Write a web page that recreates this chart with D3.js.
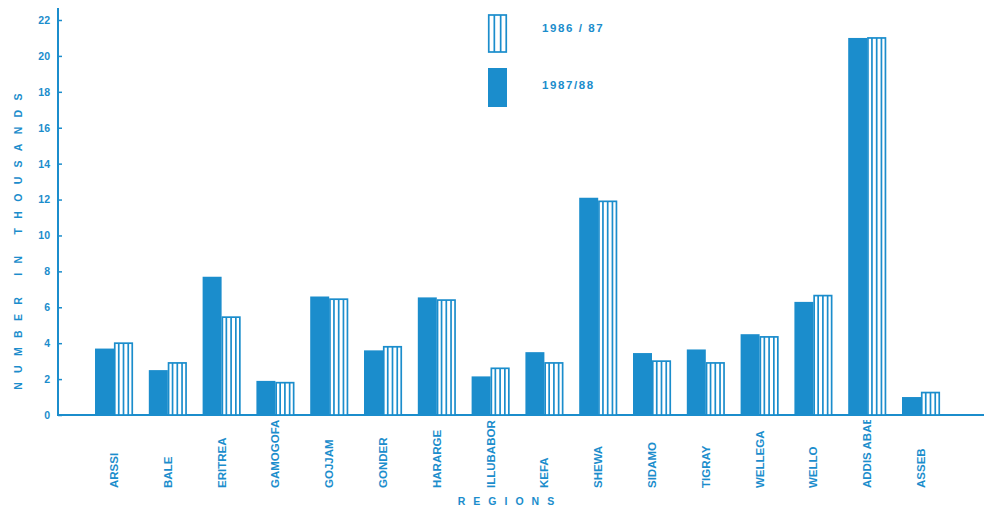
<!DOCTYPE html>
<html><head><meta charset="utf-8">
<script src="https://cdn.jsdelivr.net/npm/d3@7"></script>
<style>body{margin:0;background:#fff}svg{display:block}</style>
</head><body>
<script>
const regions = ["ARSSI","BALE","ERITREA","GAMOGOFA","GOJJAM","GONDER","HARARGE","ILLUBABOR","KEFA","SHEWA","SIDAMO","TIGRAY","WELLEGA","WELLO","ADDIS ABABA","ASSEB"];
const v8788 = [3.7,2.5,7.7,1.9,6.6,3.6,6.55,2.15,3.5,12.1,3.45,3.65,4.5,6.3,21.0,1.0];
const v8687 = [4.0,2.9,5.45,1.8,6.45,3.8,6.4,2.6,2.9,11.9,3.0,2.9,4.35,6.65,21.0,1.25];
const seriesKeys = ["1987/88","1986 / 87"];
const yTicks = [0,2,4,6,8,10,12,14,16,18,20,22];

const W=984,H=515, C="#1b8dcc";
const svg=d3.select("body").append("svg").attr("width",W).attr("height",H);
const font="'Liberation Sans', Arial, sans-serif";

const x=d3.scaleBand().domain(regions).range([58,977]).paddingInner(0.294).paddingOuter(0.688);
const xs=d3.scaleBand().domain(seriesKeys).range([0,x.bandwidth()]);
const y=d3.scaleLinear().domain([0,22]).range([415,20]);

// y axis
const ya=svg.append("g").attr("transform","translate(58,0)")
  .call(d3.axisRight(y).tickValues(yTicks).tickSize(4).tickFormat(d3.format("d")));
ya.select(".domain").remove();
ya.selectAll(".tick line").attr("stroke",C).attr("stroke-width",1.5);
ya.selectAll(".tick text").attr("x",-8).attr("text-anchor","end").attr("fill",C)
  .attr("font-family",font).attr("font-weight","bold").attr("font-size",10.5);
svg.append("line").attr("x1",58).attr("x2",58).attr("y1",8).attr("y2",y(0)+1)
  .attr("stroke",C).attr("stroke-width",2);
// baseline
svg.append("line").attr("x1",57).attr("x2",W).attr("y1",y(0)).attr("y2",y(0))
  .attr("stroke",C).attr("stroke-width",2.2);

// bars
const data=regions.map((r,i)=>({r,vals:[{k:seriesKeys[0],v:v8788[i]},{k:seriesKeys[1],v:v8687[i]}]}));
const g=svg.append("g").selectAll("g").data(data).join("g").attr("transform",d=>`translate(${x(d.r)},0)`);
g.each(function(d){
  const gg=d3.select(this);
  const f=d.vals[0], s=d.vals[1];
  gg.append("rect").attr("x",xs(f.k)).attr("y",y(f.v)).attr("width",xs.bandwidth()).attr("height",y(0)-y(f.v)).attr("fill",C);
  const sx=xs(s.k), bw=xs.bandwidth();
  gg.append("rect").attr("x",sx+0.75).attr("y",y(s.v)).attr("width",bw-1.5).attr("height",y(0)-y(s.v))
    .attr("fill","#fff").attr("stroke",C).attr("stroke-width",1.7);
  [0.25,0.5,0.75].forEach(t=>{
    gg.append("line").attr("x1",sx+bw*t).attr("x2",sx+bw*t).attr("y1",y(s.v)).attr("y2",y(0))
      .attr("stroke",C).attr("stroke-width",1.7);
  });
});

// x labels (clipped at top like the original scan)
svg.append("clipPath").attr("id","lblclip").append("rect").attr("x",0).attr("y",420).attr("width",W).attr("height",H-420);
svg.append("g").attr("clip-path","url(#lblclip)").selectAll("text").data(regions).join("text")
  .attr("transform",d=>`translate(${x(d)+x.bandwidth()/2+4},488) rotate(-90)`)
  .attr("text-anchor","start").attr("fill",C).attr("font-family",font).attr("font-weight","bold")
  .attr("font-size",11.5).text(d=>d);

// axis titles
svg.append("text").attr("transform","translate(22,237) rotate(-90)").attr("text-anchor","middle")
  .attr("fill",C).attr("font-family",font).attr("font-weight","bold").attr("font-size",10.5)
  .attr("letter-spacing",9.3).text("NUMBER IN THOUSANDS");
svg.append("text").attr("x",510).attr("y",505).attr("text-anchor","middle")
  .attr("fill",C).attr("font-family",font).attr("font-weight","bold").attr("font-size",10.5)
  .attr("letter-spacing",8).text("REGIONS");

// legend
const lg=svg.append("g");
const lx=488, lw=19;
lg.append("rect").attr("x",lx+0.75).attr("y",15).attr("width",lw-1.5).attr("height",37)
  .attr("fill","#fff").attr("stroke",C).attr("stroke-width",1.7);
[1/3,2/3].forEach(t=>lg.append("line").attr("x1",lx+lw*t).attr("x2",lx+lw*t).attr("y1",15).attr("y2",52).attr("stroke",C).attr("stroke-width",1.7));
lg.append("rect").attr("x",lx).attr("y",68).attr("width",lw).attr("height",39).attr("fill",C);
lg.append("text").attr("x",542).attr("y",32).attr("fill",C).attr("font-family",font).attr("font-weight","bold").attr("font-size",11.5).attr("letter-spacing",1.6).text(seriesKeys[1]);
lg.append("text").attr("x",542).attr("y",89).attr("fill",C).attr("font-family",font).attr("font-weight","bold").attr("font-size",11.5).attr("letter-spacing",1.6).text(seriesKeys[0]);
</script>
</body></html>
